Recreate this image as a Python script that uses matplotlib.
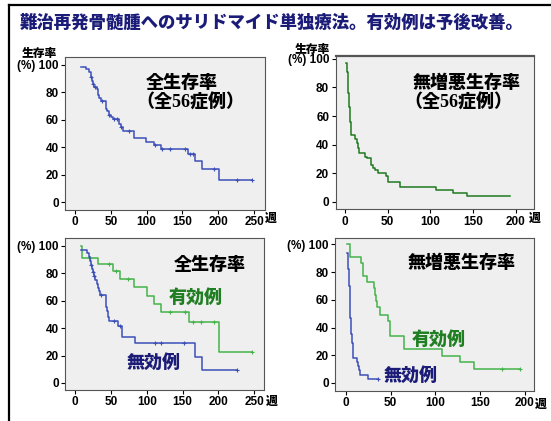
import matplotlib
matplotlib.use("Agg")
import matplotlib.pyplot as plt
from matplotlib.lines import Line2D

# ---- data ----
title = "難治再発骨髄腫へのサリドマイド単独療法。有効例は予後改善。"

# overall survival, all 56 cases (weeks, %)
os_start = (9, 98.2)
os_t = [16, 20, 22, 23.5, 25, 27, 30, 32, 34, 36, 43, 45, 47, 50, 53, 61, 64, 67, 83, 99, 110, 120, 158, 167, 177, 201]
os_s = [96.4, 94.6, 91.1, 88.0, 86.0, 84.0, 82.0, 78.0, 76.0, 73.5, 68.0, 66.0, 63.6, 61.8, 60.2, 56.4, 54.6, 51.5, 46.6, 44.0, 41.7, 38.6, 35.0, 30.2, 24.2, 16.2]
os_end = 247
os_cens = [23, 25.5, 27.5, 37, 48, 55, 58, 64, 75, 112, 121, 132, 153, 161, 165, 194, 226, 247]

# progression free survival, all 56 cases
pfs_start = (1, 97)
pfs_t = [2, 3, 3.5, 4, 4.5, 5, 5.5, 6, 6.5, 7, 12, 13.5, 15.5, 17, 24, 26, 30.5, 33, 35, 38.5, 47.5, 50.5, 65, 107, 127, 143]
pfs_s = [91, 86, 81, 76, 71, 66, 61, 56, 51, 47, 44, 41, 38, 34, 31.5, 30.5, 26, 23.5, 22, 20.5, 18, 14.3, 10.2, 8.3, 6.3, 4.3]
pfs_end = 193
pfs_cens = []

# overall survival, responders / non-responders
rs_start = (9, 100)
rs_t = [10, 32, 53, 62, 82, 100, 110, 119.5, 159.5, 201]
rs_s = [91.0, 86.4, 81.6, 75.6, 69.6, 63.6, 57.6, 51.8, 44.6, 22.3]
rs_end = 246.5
rs_cens = [21, 47.5, 57.5, 74, 132.5, 153, 164, 175.5, 193.5, 246.5]

nr_start = (9, 97.2)
nr_t = [17, 19, 20.5, 22, 23, 24.5, 26, 28.5, 30, 32, 33.5, 35.5, 43, 44.5, 46.3, 48, 60, 65.5, 83, 167, 177]
nr_s = [94.4, 91.7, 88.9, 86.1, 83.3, 80.5, 77.8, 75, 72.2, 69.4, 66.7, 63.9, 55.5, 52.7, 48.4, 45.0, 41.7, 33.3, 29.0, 19.3, 9.7]
nr_end = 225.5
nr_cens = [22.5, 25, 27, 36, 55, 62.5, 111, 120.5, 152.5, 225.5]

# progression free survival, responders / non-responders
rp_start = (1.5, 100)
rp_t = [4, 17, 18.5, 23, 31, 32.3, 33.5, 35, 38, 47, 49.5, 65, 108, 128, 143]
rp_s = [90.9, 86.4, 77.3, 72.7, 68.2, 63.6, 59.1, 54.5, 48.8, 44.4, 34.0, 24.2, 19.6, 14.8, 9.8]
rp_end = 195
rp_cens = [175, 195]

np_start = (1.5, 94)
np_t = [2, 2.5, 3, 3.5, 4, 4.5, 5, 5.5, 6, 6.5, 7.5, 12, 13, 14.5, 16, 25]
np_s = [88, 82, 76, 70, 62, 53, 47, 41, 35, 29, 18, 15, 12, 9, 6, 3]
np_end = 36
np_cens = [36]

yticks = [0, 20, 40, 60, 80, 100]
ylabels = ["0", "20", "40", "60", "80", "(%) 100"]

# ---- style ----
W, H = 551, 421
CJK = "Noto Sans CJK JP"
NUM = "Liberation Sans"
navy = "#1b1b78"
blue = "#3b4fb8"
dgreen = "#1f7a1f"
lgreen = "#44b34a"
tgreen = "#1f7f22"


def px(x, y):
    return x / W, 1 - y / H


def km(ax, start, t, s, end, cens, color):
    xs = [start[0]] + t + [end]
    ys = [start[1]] + s + [s[-1]]
    ax.step(xs, ys, where="post", color=color, lw=1.1)
    cy = []
    for c in cens:
        lvl = start[1]
        for ti, si in zip(t, s):
            if ti <= c:
                lvl = si
        cy.append(lvl)
    if cens:
        ax.plot(cens, cy, "+", color=color, ms=3.2, mew=0.8)


def setup(ax, xmax, xlim, ylim):
    ax.set_facecolor("#efefef")
    ax.set_xlim(*xlim)
    ax.set_ylim(*ylim)
    ax.set_xticks(range(0, xmax + 1, 50))
    ax.set_yticks(yticks)
    ax.set_yticklabels(ylabels)
    ax.tick_params(length=3, width=0.8, pad=1.5, labelsize=8.5)
    for lab in ax.get_xticklabels() + ax.get_yticklabels():
        lab.set_fontfamily(NUM)
        lab.set_fontweight("bold")
    for sp in ax.spines.values():
        sp.set_color("#555555")
        sp.set_linewidth(0.8)


fig = plt.figure(figsize=(W / 100, H / 100), dpi=100)

def box(l, t, r, b):
    return [l / W, 1 - b / H, (r - l) / W, (b - t) / H]

ax1 = fig.add_axes(box(65, 56.7, 265, 210))
ax2 = fig.add_axes(box(335.5, 55.7, 534, 209.3))
ax3 = fig.add_axes(box(65, 238.3, 264, 390))
ax4 = fig.add_axes(box(335, 237.7, 534, 390.7))

setup(ax1, 250, (-14, 265.3), (-5.8, 105.7))
setup(ax2, 200, (-11.1, 221.4), (-5.1, 102.1))
setup(ax3, 250, (-14, 263.5), (-5.1, 105.4))
setup(ax4, 200, (-12.3, 210.4), (-5.6, 104.8))
ax2.spines["top"].set_linewidth(1.6)

km(ax1, os_start, os_t, os_s, os_end, os_cens, blue)
km(ax2, pfs_start, pfs_t, pfs_s, pfs_end, pfs_cens, dgreen)
km(ax3, rs_start, rs_t, rs_s, rs_end, rs_cens, lgreen)
km(ax3, nr_start, nr_t, nr_s, nr_end, nr_cens, blue)
km(ax4, rp_start, rp_t, rp_s, rp_end, rp_cens, lgreen)
km(ax4, np_start, np_t, np_s, np_end, np_cens, blue)

# ---- texts ----
fig.text(*px(20, 23), title, family=CJK, weight="heavy", size=12.5,
         color=navy, ha="left", va="center")
fig.text(*px(39, 53), "生存率", family=CJK, weight="heavy", size=8.5, ha="center", va="center")
fig.text(*px(312, 49), "生存率", family=CJK, weight="heavy", size=8.5, ha="center", va="center")

for x, y in [(271, 218), (535, 218), (272, 401), (541, 404)]:
    fig.text(*px(x, y), "週", family=CJK, weight="heavy", size=8.5, ha="center", va="center")

big = dict(family=CJK, weight="heavy", size=13, ha="center", va="center")
case = dict(family=["Liberation Serif", CJK], weight="heavy", size=13, ha="center", va="center")
fig.text(*px(181.5, 82), "全生存率", **big)
fig.text(*px(190, 103), "（全56症例）", **case)
fig.text(*px(466.5, 82), "無増悪生存率", **big)
fig.text(*px(458, 103), "（全56症例）", **case)
fig.text(*px(210, 264), "全生存率", **big)
fig.text(*px(196, 297), "有効例", color=tgreen, **big)
fig.text(*px(154, 362), "無効例", color=navy, **big)
fig.text(*px(461.5, 263), "無増悪生存率", **big)
fig.text(*px(439, 339), "有効例", color=tgreen, **big)
fig.text(*px(410.5, 375), "無効例", color=navy, **big)

# slide frame
fig.add_artist(Line2D([9 / W, 9 / W], [0, 1 - 5 / H], color="black", lw=1.6, transform=fig.transFigure))
fig.add_artist(Line2D([9 / W, 1], [1 - 5 / H, 1 - 5 / H], color="black", lw=1.6, transform=fig.transFigure))

fig.savefig("out.png", dpi=100)
